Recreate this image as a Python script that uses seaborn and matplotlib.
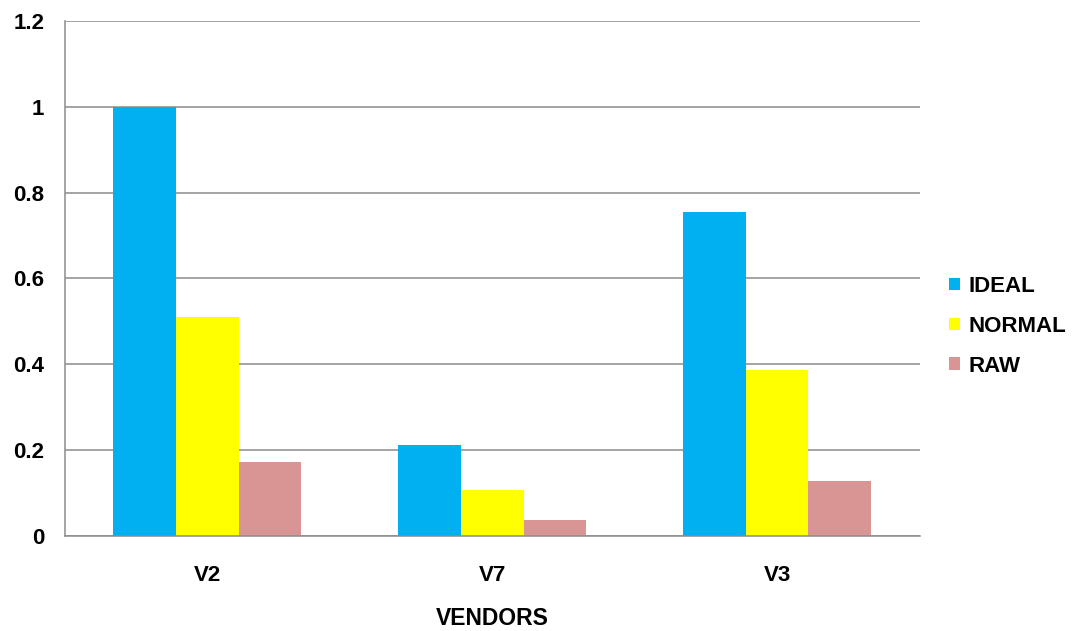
import matplotlib
matplotlib.use("Agg")
import matplotlib.pyplot as plt
import seaborn as sns
import pandas as pd
from matplotlib.ticker import FixedLocator

# Scores per vendor for each configuration
vendors = ["V2", "V7", "V3"]
series_names = ["IDEAL", "NORMAL", "RAW"]
ideal = [1.0, 0.211, 0.755]
normal = [0.511, 0.108, 0.386]
raw = [0.172, 0.038, 0.128]
y_ticks = [0, 0.2, 0.4, 0.6, 0.8, 1, 1.2]
y_tick_labels = ["0", "0.2", "0.4", "0.6", "0.8", "1", "1.2"]

colors = {"IDEAL": "#00B0F0", "NORMAL": "#FFFF00", "RAW": "#D99594"}

df = pd.DataFrame({
    "vendor": vendors * 3,
    "series": [s for s in series_names for _ in vendors],
    "value": ideal + normal + raw,
})

sns.set_style("white")
plt.rcParams["font.family"] = ["Liberation Sans", "DejaVu Sans"]
plt.rcParams["text.color"] = "black"
plt.rcParams["xtick.color"] = "black"
plt.rcParams["ytick.color"] = "black"
plt.rcParams["axes.labelcolor"] = "black"

fig = plt.figure(figsize=(10.73, 6.31), dpi=100)
ax = fig.add_axes([0.0606, 0.1506, 0.7964, 0.8161])

sns.barplot(data=df, x="vendor", y="value", hue="series", order=vendors,
            hue_order=series_names, palette=colors, width=0.66,
            saturation=1, errorbar=None, ax=ax, legend=True, linewidth=0)

ax.set_ylim(0, 1.2)
ax.set_xlim(-0.5, 2.5)
ax.set_yticks(y_ticks)
ax.set_yticklabels(y_tick_labels)
ax.yaxis.grid(True, color="#8c8c8c", linewidth=1.1)
ax.set_axisbelow(True)

for side in ("top", "right"):
    ax.spines[side].set_visible(False)
for side in ("left", "bottom"):
    ax.spines[side].set_color("#8c8c8c")
    ax.spines[side].set_linewidth(1.1)

# Category ticks sit between the groups, labels centred under each group
ax.xaxis.set_minor_locator(FixedLocator([-0.5, 0.5, 1.5, 2.5]))
ax.tick_params(axis="x", which="major", length=0, pad=21)
ax.tick_params(axis="x", which="minor", length=6, width=1.1,
               color="#8c8c8c", direction="out")
ax.tick_params(axis="y", which="major", length=7, width=1.1,
               color="#8c8c8c", direction="out", pad=8)
ax.tick_params(axis="both", labelsize=16)
for lab in ax.get_xticklabels() + ax.get_yticklabels():
    lab.set_fontweight("bold")

ax.set_ylabel("")
ax.set_xlabel("VENDORS", fontsize=16.5, fontweight="bold", labelpad=15)

handles, labels = ax.get_legend_handles_labels()
ax.legend(handles, labels, loc="center left", bbox_to_anchor=(0.866, 0.483),
          bbox_transform=fig.transFigure, frameon=False,
          handlelength=0.5, handleheight=0.5, handletextpad=0.35,
          labelspacing=0.85, prop={"size": 16, "weight": "bold"})

fig.savefig("out.png", dpi=100)
